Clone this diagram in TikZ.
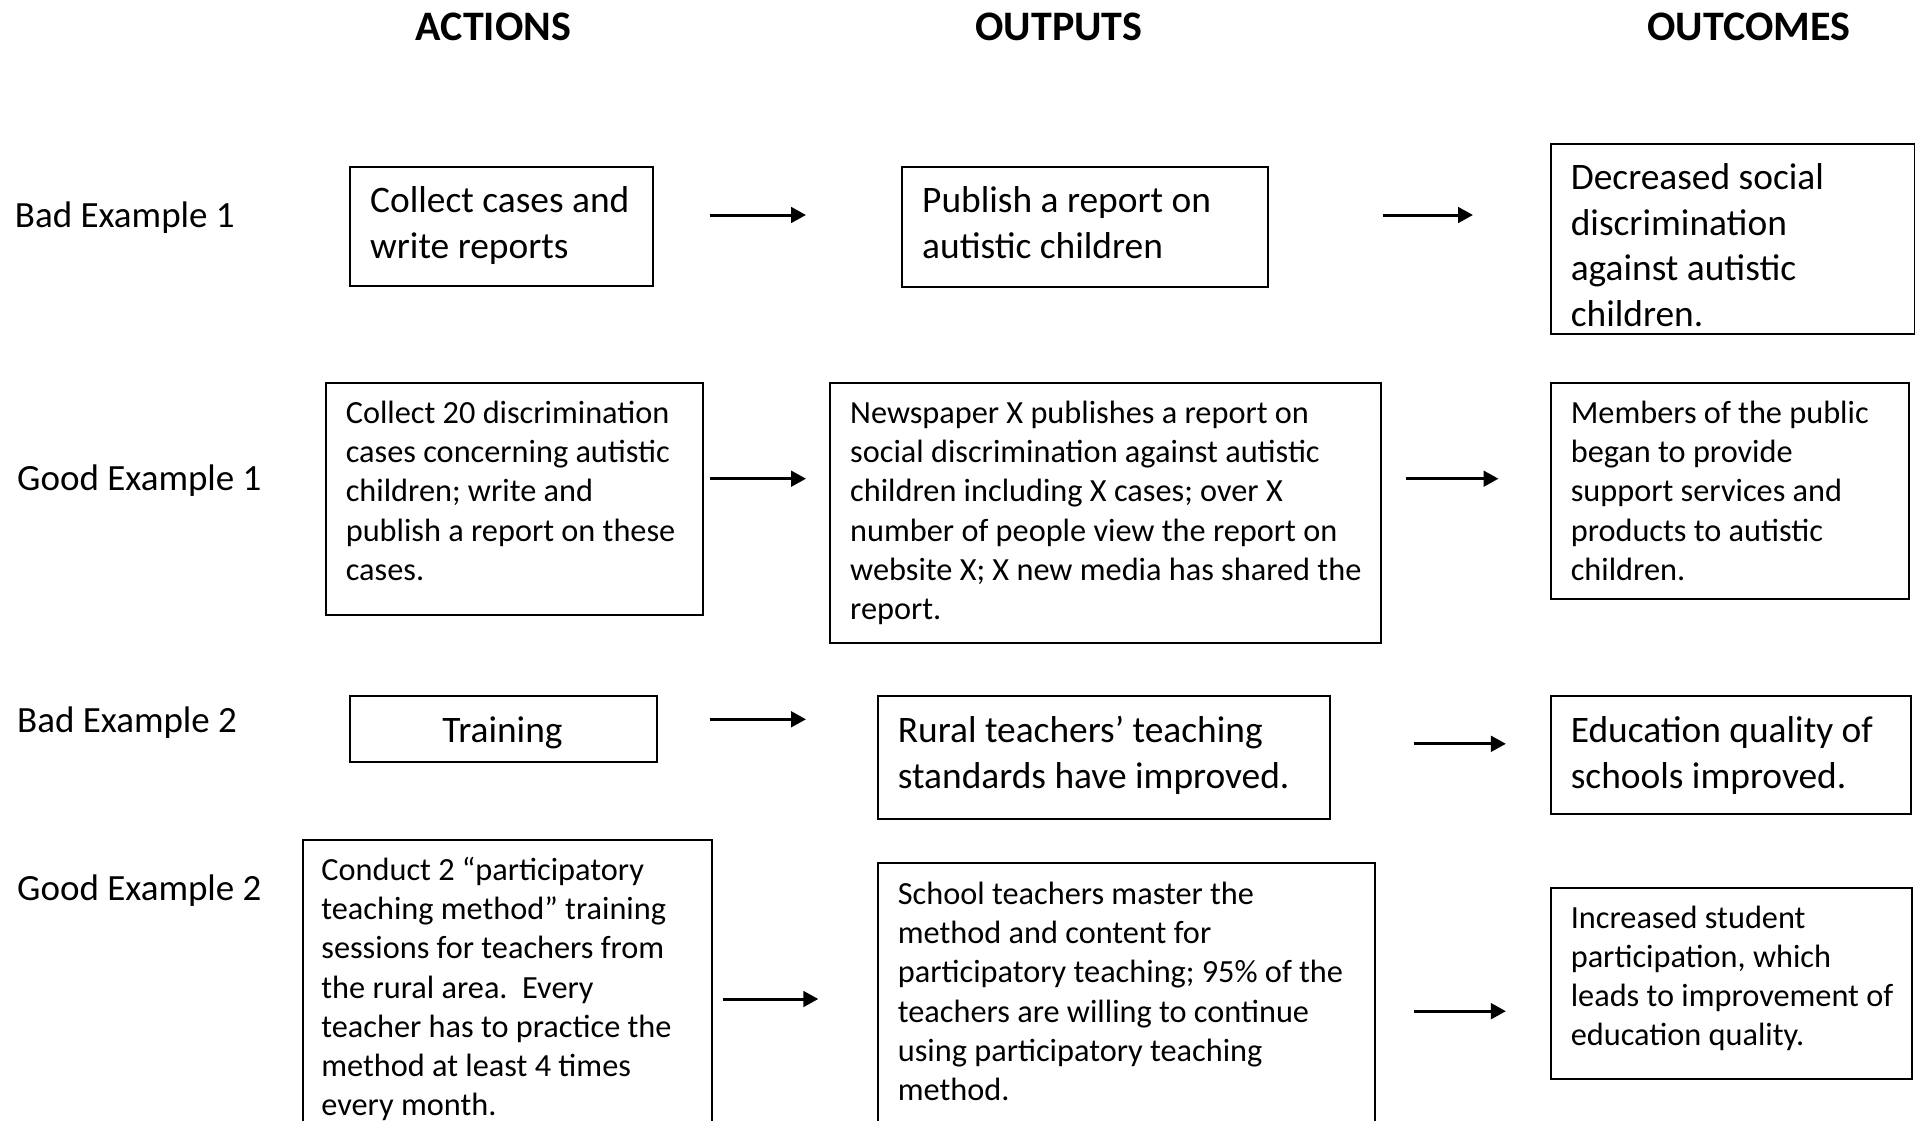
\documentclass[tikz,border=0pt]{standalone}
\usepackage{fontspec}
\setmainfont{Carlito}
\usetikzlibrary{arrows.meta}
\newcommand{\boxlines}[1]{\begin{tabular}[t]{@{}l@{}}#1\end{tabular}}
\begin{document}
\frenchspacing
\begin{tikzpicture}[x=1pt,y=-1pt,
  box/.style={draw, line width=2pt, anchor=north west, inner sep=0pt},
  big/.style={font=\fontsize{37.4}{45.6}\selectfont},
  small/.style={font=\fontsize{32.3}{39.3}\selectfont},
  txt/.style={anchor=base west, inner sep=0pt},
  hdr/.style={font=\fontsize{42}{50}\selectfont\bfseries, anchor=base, inner sep=0pt},
  rowlabel/.style={font=\fontsize{37}{45.6}\selectfont, anchor=base west, inner sep=0pt},
  flow/.style={line width=3pt, -{Triangle[length=15pt,width=15.6pt]}}
]
\useasboundingbox (0,0) rectangle (1915,1120);
\clip (0,0) rectangle (1915,1120);

% headers
\node[hdr] (hA) at (493.4,40) {ACTIONS};
\node[hdr] (hB) at (1058.9,40) {OUTPUTS};
\node[hdr] (hC) at (1748.9,40) {OUTCOMES};

% row labels
\node[rowlabel] (l1) at (14.7,227.5) {Bad Example 1};
\node[rowlabel] (l2) at (17,490) {Good Example 1};
\node[rowlabel] (l3) at (17,732.5) {Bad Example 2};
\node[rowlabel] (l4) at (17,900) {Good Example 2};

% ---- Row 1
\node[box, minimum width=302.9, minimum height=118.5] (A1) at (349.3,166.1) {};
\node[box, minimum width=365.2, minimum height=119.8] (B1) at (901.3,166) {};
\node[box, minimum width=363.7, minimum height=190.5] (C1) at (1549.8,142.9) {};
\node[txt, big] (A1t) at (370,212.5) {\boxlines{Collect cases and\\write reports}};
\node[txt, big] (B1t) at (922,212.5) {\boxlines{Publish a report on\\autistic children}};
\node[txt, big] (C1t) at (1570.6,189.5) {\boxlines{Decreased social\\discrimination\\against autistic\\children.}};

% ---- Row 2
\node[box, minimum width=377.3, minimum height=232] (A2) at (324.9,382.3) {};
\node[box, minimum width=550.8, minimum height=260.1] (B2) at (829.3,382.3) {};
\node[box, minimum width=357.9, minimum height=216.1] (C2) at (1549.8,382.3) {};
\node[txt, small] (A2t) at (345.6,423.2) {\boxlines{Collect 20 discrimination\\cases concerning autistic\\children; write and\\publish a report on these\\cases.}};
\node[txt, small] (B2t) at (850,423.2) {\boxlines{Newspaper X publishes a report on\\social discrimination against autistic\\children including X cases; over X\\number of people view the report on\\website X; X new media has shared the\\report.}};
\node[txt, small] (C2t) at (1570.6,423.2) {\boxlines{Members of the public\\began to provide\\support services and\\products to autistic\\children.}};

% ---- Row 3
\node[box, minimum width=306.5, minimum height=65.9] (A3) at (349.3,695) {};
\node[box, minimum width=451.9, minimum height=123.3] (B3) at (876.9,695) {};
\node[box, minimum width=360.3, minimum height=118.4] (C3) at (1549.8,695) {};
\node[big, anchor=base, inner sep=0pt] (A3t) at (502.5,742.5) {Training};
\node[txt, big] (B3t) at (897.7,742.5) {\boxlines{Rural teachers’ teaching\\standards have improved.}};
\node[txt, big] (C3t) at (1570.6,742.5) {\boxlines{Education quality of\\schools improved.}};

% ---- Row 4
\node[box, minimum width=409.1, minimum height=300] (A4) at (301.7,839) {};
\node[box, minimum width=497.1, minimum height=280] (B4) at (876.9,862.2) {};
\node[box, minimum width=361.5, minimum height=191.7] (C4) at (1549.8,886.7) {};
\node[txt, font=\fontsize{32.3}{39.2}\selectfont] (A4t) at (321.2,880.5) {\boxlines{Conduct 2 “participatory\\teaching method” training\\sessions for teachers from\\the rural area.\ \ Every\\teacher has to practice the\\method at least 4 times\\every month.}};
\node[txt, font=\fontsize{32.3}{39.2}\selectfont] (B4t) at (897.7,904.5) {\boxlines{School teachers master the\\method and content for\\participatory teaching; 95\% of the\\teachers are willing to continue\\using participatory teaching\\method.}};
\node[txt, font=\fontsize{32.3}{38.9}\selectfont] (C4t) at (1570.6,928.9) {\boxlines{Increased student\\participation, which\\leads to improvement of\\education quality.}};

% ---- arrows
\coordinate (a1s) at (709.6,215);   \coordinate (a1e) at (806,215);
\coordinate (b1s) at (1382.5,215);  \coordinate (b1e) at (1473,215);
\coordinate (a2s) at (709.6,478.7); \coordinate (a2e) at (806,478.7);
\coordinate (b2s) at (1405.7,478.7);\coordinate (b2e) at (1498.5,478.7);
\coordinate (a3s) at (709.6,719.3); \coordinate (a3e) at (806,719.3);
\coordinate (b3s) at (1414.3,743.8);\coordinate (b3e) at (1505.9,743.8);
\coordinate (a4s) at (723,999);     \coordinate (a4e) at (818.3,999);
\coordinate (b4s) at (1414.3,1011.2);\coordinate (b4e) at (1505.9,1011.2);
\draw[flow] (a1s) -- (a1e);
\draw[flow] (b1s) -- (b1e);
\draw[flow] (a2s) -- (a2e);
\draw[flow] (b2s) -- (b2e);
\draw[flow] (a3s) -- (a3e);
\draw[flow] (b3s) -- (b3e);
\draw[flow] (a4s) -- (a4e);
\draw[flow] (b4s) -- (b4e);
\end{tikzpicture}
\end{document}
